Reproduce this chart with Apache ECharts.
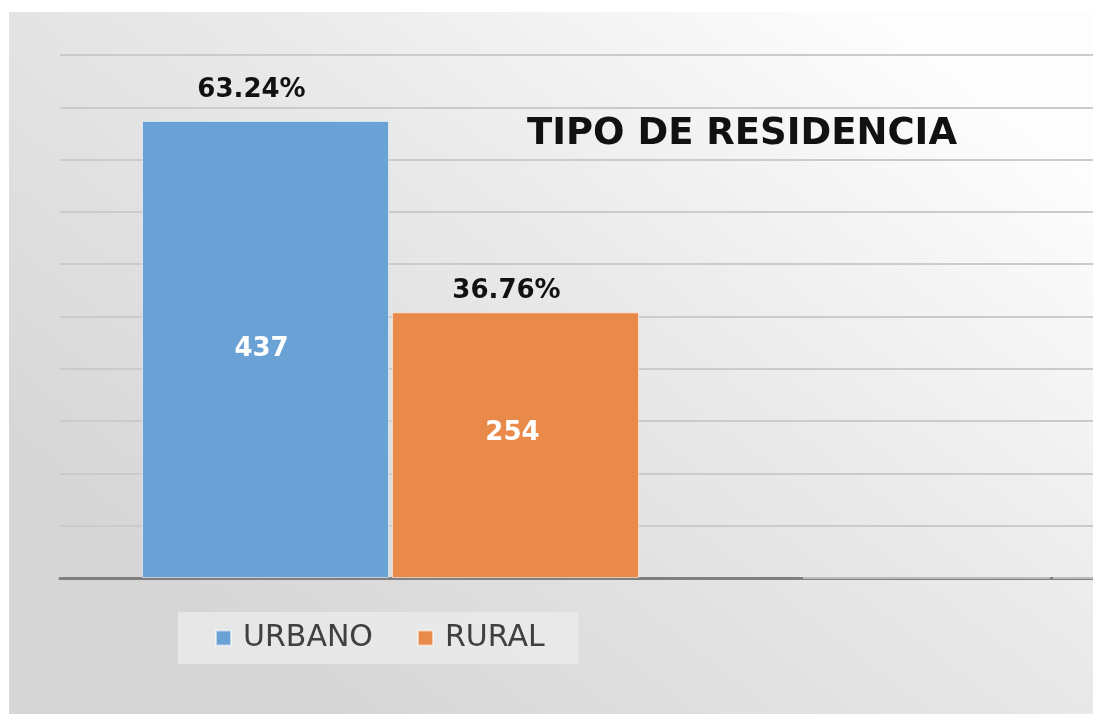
<!DOCTYPE html>
<html>
<head>
<meta charset="utf-8">
<script src="https://cdn.jsdelivr.net/npm/echarts@6/dist/echarts.min.js"></script>
<style>
  html, body { margin: 0; padding: 0; background: #ffffff; width: 1093px; height: 714px; overflow: hidden; }
  #chart { position: absolute; left: 9px; top: 12px; width: 1084px; height: 702px; }
</style>
</head>
<body>
<div id="chart"></div>
<script>
// ---- data ----
const categories = ['Tipo de residencia', 'Otro'];
const seriesNames = ['URBANO', 'RURAL'];
const urbanoValues = [437, 0];
const ruralValues = [254, 0];
const urbanoPercent = ['63.24%'];
const ruralPercent = ['36.76%'];
const yTicks = [0, 50, 100, 150, 200, 250, 300, 350, 400, 450, 500];
const titleText = 'TIPO DE RESIDENCIA';

const chart = echarts.init(document.getElementById('chart'));

const countFormatter = p => (p.value ? String(p.value) : '');

function makeSeries(name, values, pct, color, innerOffset, topDistance, topOffset) {
  return {
    name: name,
    type: 'bar',
    data: values,
    barWidth: 247,
    barGap: '1.2%',
    itemStyle: { color: color, borderColor: 'rgba(255,255,255,0.55)', borderWidth: 1 },
    label: {
      show: true,
      position: 'inside',
      offset: innerOffset,
      formatter: countFormatter,
      color: '#ffffff',
      fontFamily: 'DejaVu Sans',
      fontWeight: 'bold',
      fontSize: 26
    },
    markPoint: {
      symbol: 'rect',
      symbolSize: 1,
      itemStyle: { color: 'rgba(0,0,0,0)' },
      label: {
        show: true,
        position: 'top',
        distance: topDistance,
        offset: topOffset,
        color: '#111111',
        fontFamily: 'DejaVu Sans',
        fontWeight: 'bold',
        fontSize: 26,
        formatter: p => p.name
      },
      data: pct.map((t, i) => ({ name: t, coord: [categories[i], values[i]] }))
    }
  };
}

const option = {
  backgroundColor: {
    type: 'linear', x: 0.8, y: 0, x2: 0.3, y2: 1,
    colorStops: [
      { offset: 0, color: '#fdfdfd' },
      { offset: 0.45, color: '#e9e9e9' },
      { offset: 1, color: '#d6d6d6' }
    ]
  },
  animation: false,
  title: {
    text: titleText,
    left: 518,
    top: 104,
    padding: 0,
    textStyle: { fontFamily: 'DejaVu Sans', fontWeight: 'bold', fontSize: 37, color: '#111111' }
  },
  legend: {
    data: seriesNames,
    left: 169,
    top: 600,
    orient: 'horizontal',
    backgroundColor: 'rgba(236,236,236,0.75)',
    padding: [11, 34, 11, 37],
    itemWidth: 15,
    itemHeight: 15,
    itemGap: 44,
    icon: 'rect',
    textStyle: { fontFamily: 'DejaVu Sans', fontSize: 30, color: '#404040', padding: [0, 0, 0, 7] }
  },
  grid: { left: 51, top: 43, width: 1322, height: 523, containLabel: false, outerBoundsMode: 'none' },
  xAxis: {
    type: 'category',
    data: categories,
    axisLine: { show: true, lineStyle: { color: '#7f7f7f', width: 3 } },
    axisTick: { show: false },
    axisLabel: { show: false },
    splitLine: { show: false }
  },
  yAxis: {
    type: 'value',
    min: yTicks[0],
    max: yTicks[yTicks.length - 1],
    interval: yTicks[1] - yTicks[0],
    axisLine: { show: false },
    axisTick: { show: false },
    axisLabel: { show: false },
    splitLine: { show: true, lineStyle: { color: '#cbcbcb', width: 2 } }
  },
  series: [
    makeSeries(seriesNames[0], urbanoValues, urbanoPercent, '#6aa2d6', [-4, 0], 17, [-14, 0]),
    makeSeries(seriesNames[1], ruralValues, ruralPercent, '#ea8a4a', [-3, -12], 8, [-9, 0])
  ]
};

chart.setOption(option);
</script>
</body>
</html>
